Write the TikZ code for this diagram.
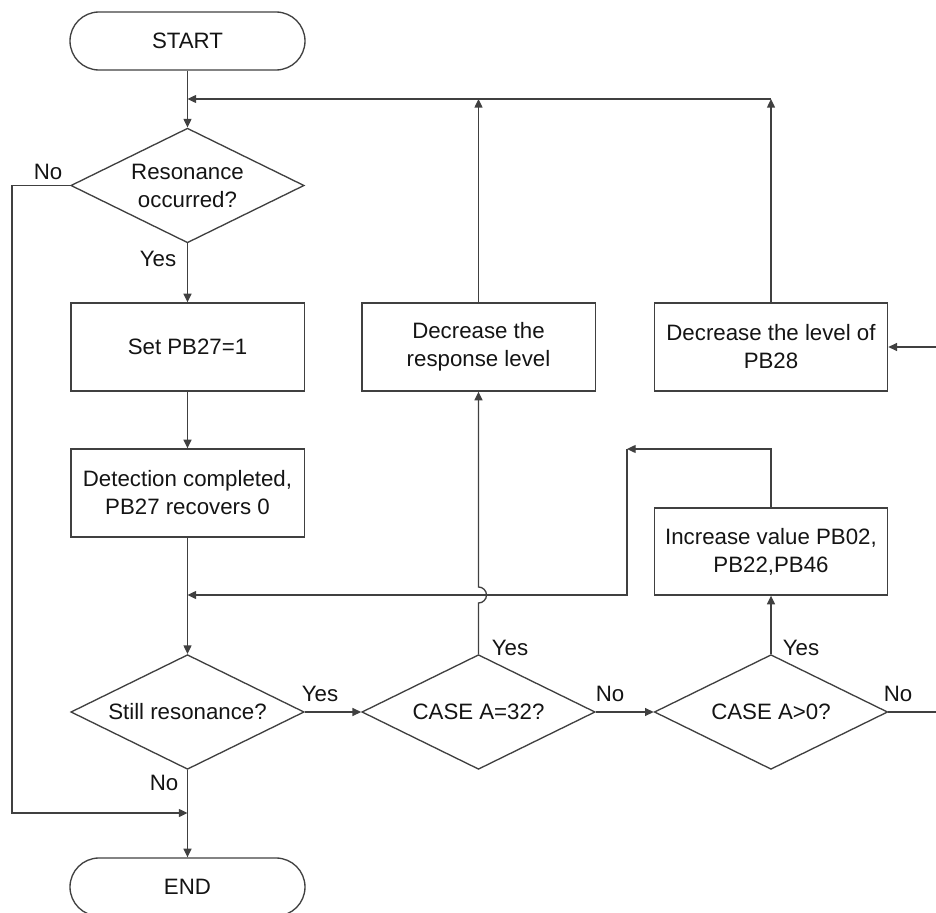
\documentclass[tikz,border=0pt]{standalone}
\usepackage{fontspec}
\setmainfont{Liberation Sans}
\usetikzlibrary{shapes.geometric,arrows.meta}
\definecolor{linec}{HTML}{404040}
\definecolor{textc}{HTML}{141414}
\begin{document}
\begin{tikzpicture}[x=0.75pt,y=-0.75pt,
  every node/.style={font=\fontsize{16.7}{21}\selectfont,text=textc},
  term/.style={draw=linec,line width=1pt,rounded corners=21.75pt,minimum width=176.25pt,minimum height=43.5pt,inner sep=0pt},
  proc/.style={draw=linec,line width=1pt,minimum width=175pt,minimum height=66pt,inner sep=0pt,align=center},
  dec/.style={draw=linec,line width=1pt,shape=diamond,aspect=2,inner sep=0pt,minimum width=175pt,minimum height=86pt,align=center},
  conn/.style={draw=linec,line width=1pt},
  arr/.style={conn,-{Triangle[length=6.5pt,width=6pt]}},
  lbl/.style={inner sep=0pt}]
\useasboundingbox (0,0) rectangle (936,913);
\clip (0,0) rectangle (936,913);
% nodes
\node[term] (start) at (187.5,41) {START};
\node[dec] (d1) at (187.5,185.5) {Resonance\\occurred?};
\node[proc] (set) at (187.5,347) {Set PB27=1};
\node[proc] (det) at (187.5,493) {Detection completed,\\PB27 recovers 0};
\node[dec] (d2) at (187.5,712) {Still resonance?};
\node[term] (end) at (187.5,887) {END};
\node[dec] (d3) at (478.5,712) {CASE A=32?};
\node[dec] (d4) at (771,712) {CASE A>0?};
\node[proc] (decr) at (478.5,347) {Decrease the\\response level};
\node[proc] (dpb) at (771,347) {Decrease the level of\\PB28};
\node[proc,minimum height=65.25pt] (inc) at (771,551.5) {Increase value PB02,\\PB22,PB46};
% coordinates
\coordinate (top) at (187.5,99);
\coordinate (topr) at (771,99);
\coordinate (lft) at (12,185.5);
\coordinate (lftb) at (12,813);
\coordinate (merge) at (187.5,813);
\coordinate (hopc) at (478.5,595);
\coordinate (c1) at (771,449);
\coordinate (c2) at (627,449);
\coordinate (c3) at (627,595);
\coordinate (back) at (187.5,595);
\coordinate (outno) at (945,712);
\coordinate (inpb) at (945,347);
% connectors
\draw[arr] (start) -- (d1);
\draw[arr] (decr.north) -- (decr.north |- top);
\draw[arr] (dpb.north) -- (topr);
\draw[arr] (topr) -- (top);
\draw[arr] (d1.west) -- (lft) -- (lftb) -- (merge);
\draw[arr] (d1) -- (set);
\draw[arr] (set) -- (det);
\draw[arr] (det) -- (d2);
\draw[arr] (d2) -- (end);
\draw[arr] (d2) -- (d3);
\draw[arr] (d3) -- (d4);
\draw[arr] (d3.north) -- ([yshift=-6pt]hopc) arc[start angle=-90,end angle=90,radius=6pt] -- (decr.south);
\draw[arr] (d4) -- (inc);
\draw[arr] (inc.north) -- (c1) -- (c2);
\draw[arr] (c2) -- (c3) -- (back);
\draw[arr] (d4.east) -- (outno);
\draw[arr] (inpb) -- (dpb.east);
% labels
\node[lbl] (l1) at (48,172) {No};
\node[lbl] (l2) at (158,259) {Yes};
\node[lbl] (l3) at (320,694) {Yes};
\node[lbl] (l4) at (164,783) {No};
\node[lbl] (l5) at (610,694) {No};
\node[lbl] (l6) at (510,648) {Yes};
\node[lbl] (l7) at (801,648) {Yes};
\node[lbl] (l8) at (898,694) {No};
\end{tikzpicture}
\end{document}
